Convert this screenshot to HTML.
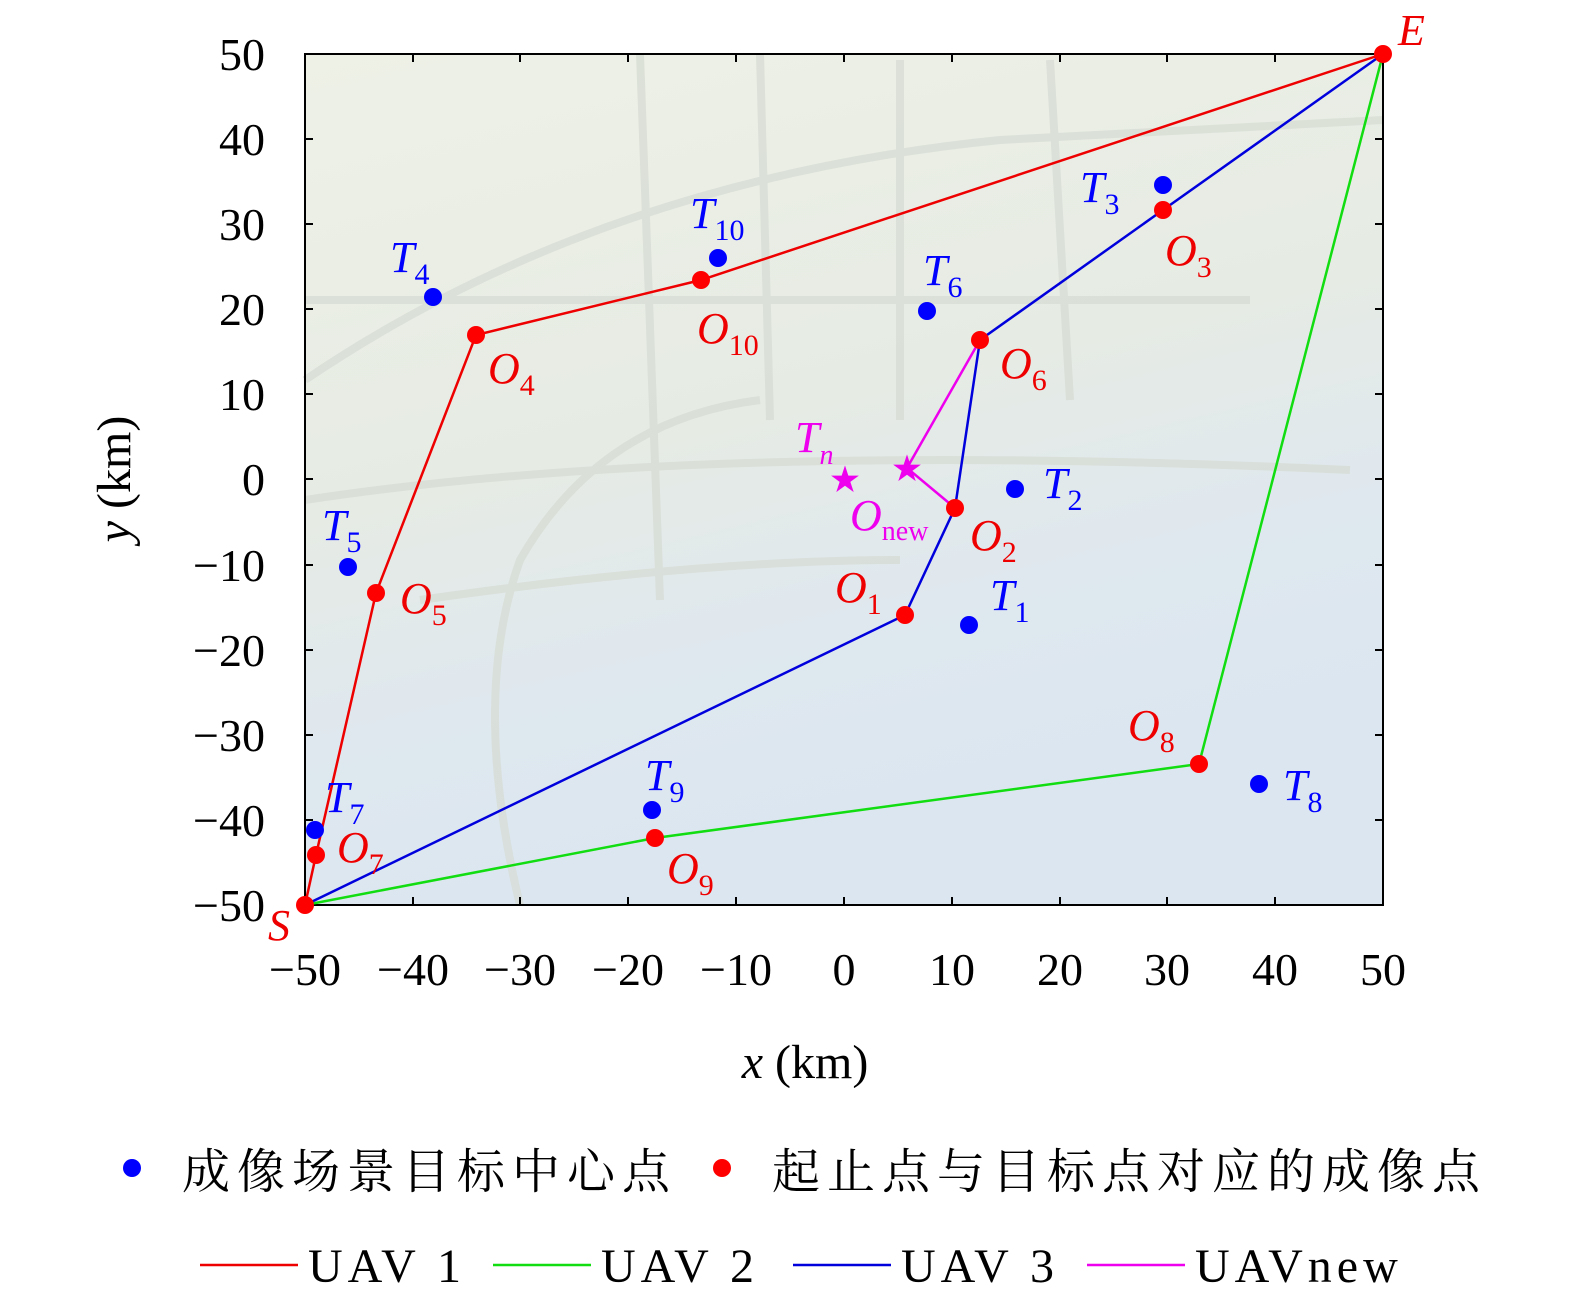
<!DOCTYPE html>
<html><head><meta charset="utf-8"><style>
body{margin:0;background:#fff}
svg text{font-family:"Liberation Serif","Noto Serif CJK SC",serif}
</style></head><body>
<svg width="1575" height="1303" viewBox="0 0 1575 1303" xmlns="http://www.w3.org/2000/svg">
<defs>
<linearGradient id="bg" x1="0" y1="0" x2="0.3" y2="1">
<stop offset="0" stop-color="#eef1e6"/>
<stop offset="0.5" stop-color="#e6ebe4"/>
<stop offset="0.75" stop-color="#dfe8ef"/>
<stop offset="1" stop-color="#dbe6f0"/>
</linearGradient>
</defs>
<rect x="305" y="54" width="1078" height="851" fill="url(#bg)"/>
<g stroke="#d6dbd3" stroke-width="8" fill="none" opacity="0.7">
<path d="M305 380 Q600 180 1000 140 L1383 120"/>
<path d="M305 500 Q700 440 1350 470"/>
<path d="M520 905 Q470 700 520 560 Q600 420 760 400"/>
<path d="M640 54 L660 600"/>
<path d="M760 54 L770 420"/>
<path d="M900 60 L900 420"/>
<path d="M1050 60 L1070 400"/>
<path d="M305 300 L1250 300"/>
<path d="M420 600 Q700 560 900 560"/>
</g>
<g stroke="#000" stroke-width="2">
<path d="M305 54V905H1383V54Z" fill="none"/>
<path d="M413 905v-8M520 905v-8M628 905v-8M736 905v-8M844 905v-8M952 905v-8M1060 905v-8M1167 905v-8M1275 905v-8"/>
<path d="M413 54v8M520 54v8M628 54v8M736 54v8M844 54v8M952 54v8M1060 54v8M1167 54v8M1275 54v8"/>
<path d="M305 139h8M305 224h8M305 309h8M305 394h8M305 479h8M305 565h8M305 650h8M305 735h8M305 820h8"/>
<path d="M1383 139h-8M1383 224h-8M1383 309h-8M1383 394h-8M1383 479h-8M1383 565h-8M1383 650h-8M1383 735h-8M1383 820h-8"/>
</g>
<g font-size="46" text-anchor="middle" fill="#000">
<text x="305" y="985">−50</text><text x="413" y="985">−40</text><text x="520" y="985">−30</text><text x="628" y="985">−20</text><text x="736" y="985">−10</text><text x="844" y="985">0</text><text x="952" y="985">10</text><text x="1060" y="985">20</text><text x="1167" y="985">30</text><text x="1275" y="985">40</text><text x="1383" y="985">50</text>
</g>
<g font-size="46" text-anchor="end" fill="#000">
<text x="265" y="70">50</text><text x="265" y="155">40</text><text x="265" y="240">30</text><text x="265" y="325">20</text><text x="265" y="410">10</text><text x="265" y="495">0</text><text x="265" y="581">−10</text><text x="265" y="666">−20</text><text x="265" y="751">−30</text><text x="265" y="836">−40</text><text x="265" y="921">−50</text>
</g>
<text x="805" y="1078" font-size="48" text-anchor="middle"><tspan font-style="italic">x</tspan> (km)</text>
<text transform="translate(130,479) rotate(-90)" font-size="48" text-anchor="middle"><tspan font-style="italic">y</tspan> (km)</text>
<g fill="none" stroke-width="2.5">
<polyline stroke="#e00" points="305,905 316,855 376,593 476,335 701,280 1383,54"/>
<polyline stroke="#1d1" points="305,905 655,838 1199,764 1383,54"/>
<polyline stroke="#00d" points="305,905 905,615 955,508 980,340 1163,210 1383,54"/>
<polyline stroke="#e0e" points="980,340 907,468 955,508"/>
</g>
<g fill="#00f">
<circle cx="315" cy="830" r="9"/><circle cx="348" cy="567" r="9"/><circle cx="433" cy="297" r="9"/><circle cx="718" cy="258" r="9"/><circle cx="927" cy="311" r="9"/><circle cx="1163" cy="185" r="9"/><circle cx="1015" cy="489" r="9"/><circle cx="969" cy="625" r="9"/><circle cx="652" cy="810" r="9"/><circle cx="1259" cy="784" r="9"/>
</g>
<g fill="#f00">
<circle cx="305" cy="905" r="9"/><circle cx="316" cy="855" r="9"/><circle cx="376" cy="593" r="9"/><circle cx="476" cy="335" r="9"/><circle cx="701" cy="280" r="9"/><circle cx="1383" cy="54" r="9"/><circle cx="1163" cy="210" r="9"/><circle cx="980" cy="340" r="9"/><circle cx="955" cy="508" r="9"/><circle cx="905" cy="615" r="9"/><circle cx="655" cy="838" r="9"/><circle cx="1199" cy="764" r="9"/>
</g>
<g fill="#e0e" font-size="30" text-anchor="middle"><text x="845" y="490">★</text><text x="907" y="479">★</text></g>
<g font-size="44" font-style="italic" fill="#00f">
<text x="325" y="812">T<tspan font-size="30" font-style="normal" dy="12">7</tspan></text>
<text x="322" y="540">T<tspan font-size="30" font-style="normal" dy="12">5</tspan></text>
<text x="390" y="272">T<tspan font-size="30" font-style="normal" dy="12">4</tspan></text>
<text x="690" y="228">T<tspan font-size="30" font-style="normal" dy="12">10</tspan></text>
<text x="923" y="285">T<tspan font-size="30" font-style="normal" dy="12">6</tspan></text>
<text x="1080" y="202">T<tspan font-size="30" font-style="normal" dy="12">3</tspan></text>
<text x="1043" y="498">T<tspan font-size="30" font-style="normal" dy="12">2</tspan></text>
<text x="990" y="610">T<tspan font-size="30" font-style="normal" dy="12">1</tspan></text>
<text x="645" y="790">T<tspan font-size="30" font-style="normal" dy="12">9</tspan></text>
<text x="1283" y="800">T<tspan font-size="30" font-style="normal" dy="12">8</tspan></text>
</g>
<g font-size="44" font-style="italic" fill="#e00">
<text x="268" y="940">S</text>
<text x="1398" y="45">E</text>
<text x="337" y="862">O<tspan font-size="30" font-style="normal" dy="12">7</tspan></text>
<text x="400" y="613">O<tspan font-size="30" font-style="normal" dy="12">5</tspan></text>
<text x="488" y="383">O<tspan font-size="30" font-style="normal" dy="12">4</tspan></text>
<text x="697" y="343">O<tspan font-size="30" font-style="normal" dy="12">10</tspan></text>
<text x="1165" y="265">O<tspan font-size="30" font-style="normal" dy="12">3</tspan></text>
<text x="1000" y="378">O<tspan font-size="30" font-style="normal" dy="12">6</tspan></text>
<text x="970" y="550">O<tspan font-size="30" font-style="normal" dy="12">2</tspan></text>
<text x="835" y="602">O<tspan font-size="30" font-style="normal" dy="12">1</tspan></text>
<text x="667" y="883">O<tspan font-size="30" font-style="normal" dy="12">9</tspan></text>
<text x="1128" y="740">O<tspan font-size="30" font-style="normal" dy="12">8</tspan></text>
</g>
<g font-size="44" font-style="italic" fill="#e0e">
<text x="795" y="452">T<tspan font-size="28" dy="12">n</tspan></text>
<text x="850" y="530">O<tspan font-size="28" font-style="normal" dy="10">new</tspan></text>
</g>
<circle cx="132" cy="1168" r="9" fill="#00f"/>
<text x="182" y="1188" font-size="48" letter-spacing="7" fill="#000">成像场景目标中心点</text>
<circle cx="722" cy="1168" r="9" fill="#f00"/>
<text x="772" y="1188" font-size="48" letter-spacing="7" fill="#000">起止点与目标点对应的成像点</text>
<g stroke-width="2.5">
<line x1="200" y1="1265" x2="298" y2="1265" stroke="#e00"/>
<line x1="493" y1="1265" x2="591" y2="1265" stroke="#1d1"/>
<line x1="793" y1="1265" x2="891" y2="1265" stroke="#00d"/>
<line x1="1087" y1="1265" x2="1185" y2="1265" stroke="#e0e"/>
</g>
<g font-size="48" fill="#000" letter-spacing="5">
<text x="308" y="1282">UAV 1</text><text x="601" y="1282">UAV 2</text><text x="901" y="1282">UAV 3</text><text x="1195" y="1282">UAVnew</text>
</g>
</svg>
</body></html>
